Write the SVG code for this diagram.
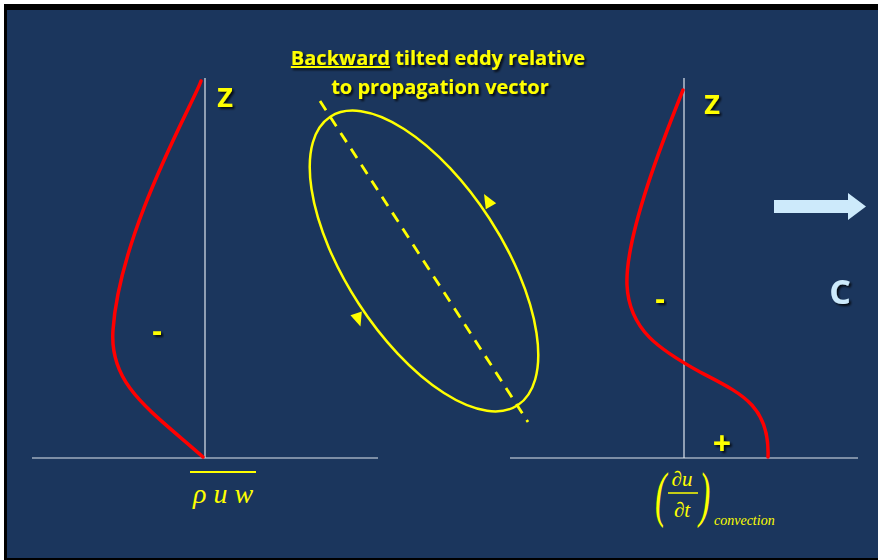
<svg xmlns="http://www.w3.org/2000/svg" width="878" height="560" viewBox="0 0 878 560">
<defs>
<style>
.axis{stroke:#dfe6ee;stroke-width:1.2;fill:none}
.prof{stroke:#ff0000;stroke-width:3.5;fill:none;stroke-linecap:round}
.lbl{font-family:"Open Sans","Liberation Sans",sans-serif;font-weight:bold;fill:#ffff00}
.math{font-family:"Liberation Serif",serif;font-style:italic;fill:#ffff00}
.yl{stroke:#ffff00;fill:none}
</style>
<filter id="sh" x="-20%" y="-20%" width="140%" height="140%">
<feDropShadow dx="2" dy="2" stdDeviation="1" flood-color="#000" flood-opacity="0.8"/>
</filter>
</defs>
<rect x="0" y="0" width="878" height="560" fill="#ffffff"/>
<rect x="4" y="4" width="874" height="556" fill="#000"/>
<rect x="7" y="10" width="871" height="548" fill="#1b365d"/>

<g id="title" filter="url(#sh)">
<text class="lbl" x="438" y="65" font-size="20" text-anchor="middle"><tspan text-decoration="underline">Backward</tspan> tilted eddy relative</text>
<text class="lbl" x="440" y="94" font-size="20" text-anchor="middle">to propagation vector</text>
</g>

<g id="left-plot">
<line class="axis" x1="205" y1="78" x2="205" y2="458"/>
<line class="axis" x1="32" y1="458" x2="378" y2="458"/>
<path class="prof" d="M201,81 C195,100 120,230 113,330 C109,385 150,410 203,457"/>
<text class="lbl" x="225" y="107" font-size="27" text-anchor="middle" filter="url(#sh)">Z</text>
<text class="lbl" x="157" y="341" font-size="30" text-anchor="middle" filter="url(#sh)">-</text>
<line x1="190" y1="472" x2="256" y2="472" stroke="#ffff00" stroke-width="2"/>
<text class="math" x="223" y="503" font-size="28" text-anchor="middle">ρ u w</text>
</g>

<g id="eddy">
<ellipse class="yl" cx="424" cy="261" rx="172" ry="78" transform="rotate(57 424 261)" stroke-width="2.5"/>
<line class="yl" x1="320" y1="101" x2="528" y2="422" stroke-width="2.8" stroke-dasharray="11 8"/>
<path d="M8,0 L-6,-6 L-6,6 Z" fill="#ffff00" transform="translate(488,201) rotate(-120)"/>
<path d="M8,0 L-6,-6 L-6,6 Z" fill="#ffff00" transform="translate(358,319) rotate(72)"/>
</g>

<g id="right-plot">
<line class="axis" x1="684" y1="78" x2="684" y2="458"/>
<line class="axis" x1="510" y1="458" x2="858" y2="458"/>
<path class="prof" d="M683,90 C665,135 625,235 627,285 C629,330 660,350 700,372 C740,393 770,405 768,457"/>
<text class="lbl" x="712" y="114" font-size="27" text-anchor="middle" filter="url(#sh)">Z</text>
<text class="lbl" x="660" y="309" font-size="30" text-anchor="middle" filter="url(#sh)">-</text>
<text class="lbl" x="722" y="455" font-size="32" text-anchor="middle" filter="url(#sh)">+</text>
<text class="math" x="655" y="515" font-size="62" font-style="normal" transform="translate(655 515) scale(0.55 1) translate(-655 -515)">(</text>
<text class="math" x="699" y="515" font-size="62" font-style="normal" transform="translate(699 515) scale(0.55 1) translate(-699 -515)">)</text>
<text class="math" x="682" y="486" font-size="21" text-anchor="middle">∂u</text>
<line x1="668" y1="493" x2="698" y2="493" stroke="#ffff00" stroke-width="1.5"/>
<text class="math" x="682" y="517" font-size="21" text-anchor="middle">∂t</text>
<text class="math" x="714" y="525" font-size="14">convection</text>
</g>

<g id="propagation">
<path d="M774,200 L848,200 L848,193 L866,206.5 L848,220 L848,213 L774,213 Z" fill="#cdeafb"/>
<text x="840" y="304" font-family="'Open Sans','Liberation Sans',sans-serif" font-weight="bold" font-size="34" fill="#cdeafb" text-anchor="middle" filter="url(#sh)">C</text>
</g>
</svg>
